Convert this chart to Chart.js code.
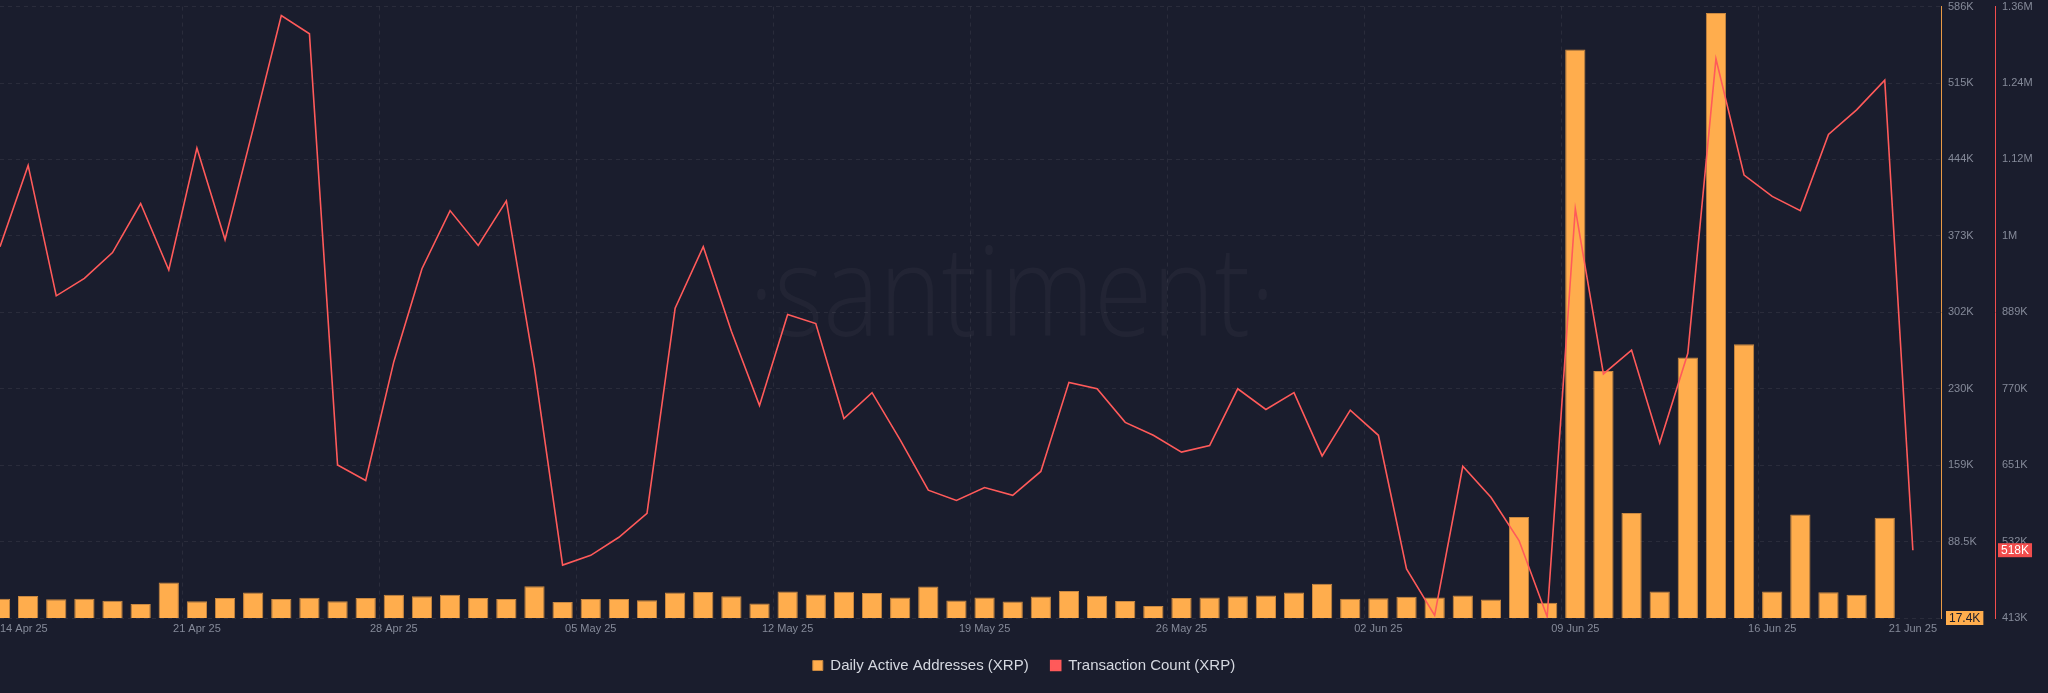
<!DOCTYPE html>
<html lang="en">
<head>
<meta charset="UTF-8">
<title>XRP Daily Active Addresses vs Transaction Count</title>
<style>
  html, body { margin: 0; padding: 0; background: #1a1d2d; }
</style>
</head>
<body>
<canvas id="chart" width="2048" height="693"></canvas>
<script src="https://cdn.jsdelivr.net/npm/chart.js@4/dist/chart.umd.min.js"></script>
<script>
const days = [
  '14 Apr 25', '15 Apr 25', '16 Apr 25', '17 Apr 25', '18 Apr 25', '19 Apr 25', '20 Apr 25',
  '21 Apr 25', '22 Apr 25', '23 Apr 25', '24 Apr 25', '25 Apr 25', '26 Apr 25', '27 Apr 25',
  '28 Apr 25', '29 Apr 25', '30 Apr 25', '01 May 25', '02 May 25', '03 May 25', '04 May 25',
  '05 May 25', '06 May 25', '07 May 25', '08 May 25', '09 May 25', '10 May 25', '11 May 25',
  '12 May 25', '13 May 25', '14 May 25', '15 May 25', '16 May 25', '17 May 25', '18 May 25',
  '19 May 25', '20 May 25', '21 May 25', '22 May 25', '23 May 25', '24 May 25', '25 May 25',
  '26 May 25', '27 May 25', '28 May 25', '29 May 25', '30 May 25', '31 May 25', '01 Jun 25',
  '02 Jun 25', '03 Jun 25', '04 Jun 25', '05 Jun 25', '06 Jun 25', '07 Jun 25', '08 Jun 25',
  '09 Jun 25', '10 Jun 25', '11 Jun 25', '12 Jun 25', '13 Jun 25', '14 Jun 25', '15 Jun 25',
  '16 Jun 25', '17 Jun 25', '18 Jun 25', '19 Jun 25', '20 Jun 25', '21 Jun 25'
]

const activeAddresses = [
  35400, 37900, 34800, 35400, 33500, 30400, 50300, 32900, 36000, 41000, 35100, 36300, 32900, 36000,
  39100, 37600, 39100, 36000, 35100, 46900, 32300, 35100, 35100, 33800, 41000, 41600, 37600, 30800,
  42000, 39200, 41700, 40700, 36500, 46600, 33600, 36400, 32800, 37300, 42600, 38000, 33300, 28600,
  35900, 36500, 37600, 38300, 41100, 49200, 35300, 35700, 37200, 36500, 38400, 34600, 111400, 31600,
  546000, 247000, 115000, 42100, 259600, 580000, 272000, 42100, 113600, 41400, 39100, 110600, 17400
]

const txCount = [
  988000, 1114000, 912000, 939000, 979000, 1055000, 952000, 1141000, 999000, 1171000, 1346000, 1318000, 650000, 626000,
  810000, 954000, 1044000, 990000, 1059000, 800000, 495000, 510000, 538000, 575000, 893000, 988000, 857000, 742000,
  883000, 869000, 722000, 762000, 689000, 611000, 595000, 615000, 603000, 640000, 778000, 768000, 716000, 696000,
  670000, 680000, 768000, 736000, 762000, 664000, 735000, 696000, 489000, 417000, 648000, 600000, 533000, 415000,
  1047000, 791000, 828000, 684000, 823000, 1279000, 1099000, 1066000, 1044000, 1162000, 1200000, 1246000, 518000
]

// labels shown under the x axis (weekly, plus the last day)
const xTickLabels = ['14 Apr 25', '21 Apr 25', '28 Apr 25', '05 May 25', '12 May 25', '19 May 25',
  '26 May 25', '02 Jun 25', '09 Jun 25', '16 Jun 25', '21 Jun 25']

const addrTicks = [17400, 88475, 159550, 230625, 301700, 372775, 443850, 514925, 586000]
const addrTickLabels = ['17.4K', '88.5K', '159K', '230K', '302K', '373K', '444K', '515K', '586K']
const txTicks = [413000, 531375, 649750, 768125, 886500, 1004875, 1123250, 1241625, 1360000]
const txTickLabels = ['413K', '532K', '651K', '770K', '889K', '1M', '1.12M', '1.24M', '1.36M']

const BG = '#1a1d2d'
const ORANGE = '#ffad4d'
const RED = '#ff5a5a'
const TICK = '#858a99'
const GRID = 'rgba(255,255,255,0.07)'
const NONE = 'rgba(0,0,0,0)'

Chart.defaults.font.family = "'Liberation Sans', Arial, sans-serif"

// one empty slot after the last day so the plot runs a little past 21 Jun
const labels = days.concat([''])
const weekly = i => i < days.length - 1 && xTickLabels.includes(labels[i])

const fmt = v => v >= 1e6 ? (v / 1e6).toFixed(2) + 'M' : (v < 1e5 ? (v / 1000).toFixed(1) : Math.round(v / 1000)) + 'K'

const background = {
  id: 'background',
  beforeDraw(chart) {
    const ctx = chart.ctx
    ctx.save()
    ctx.fillStyle = BG
    ctx.fillRect(0, 0, chart.width, chart.height)
    ctx.restore()
  }
}

const watermark = {
  id: 'watermark',
  beforeDatasetsDraw(chart) {
    const { ctx, chartArea } = chart
    ctx.save()
    ctx.font = '300 126px "Open Sans"'
    const sx = 476 / ctx.measureText('santiment').width
    ctx.translate(chart.width / 2 - 12, (chartArea.top + chartArea.bottom) / 2 + 24)
    ctx.scale(sx, 1)
    ctx.fillStyle = 'rgba(255,255,255,0.035)'
    ctx.textAlign = 'center'
    ctx.textBaseline = 'alphabetic'
    ctx.fillText('·santiment·', 0, 0)
    ctx.restore()
  }
}

// coloured boxes with the latest value of each series on its axis
const lastValueTags = {
  id: 'lastValueTags',
  afterDraw(chart) {
    const ctx = chart.ctx
    const tag = (scale, value, fill, color, dx) => {
      const y = scale.getPixelForValue(value)
      const text = fmt(value)
      ctx.save()
      ctx.font = "12px 'Liberation Sans', Arial, sans-serif"
      const w = ctx.measureText(text).width + 6
      ctx.fillStyle = fill
      ctx.fillRect(scale.left + dx, y - 7, w, 14)
      ctx.fillStyle = color
      ctx.textBaseline = 'middle'
      ctx.fillText(text, scale.left + dx + 3, y + 0.5)
      ctx.restore()
    }
    tag(chart.scales.y, activeAddresses[activeAddresses.length - 1], ORANGE, BG, 5)
    tag(chart.scales.y1, txCount[txCount.length - 1], '#f24d4d', '#ffffff', 3)
  }
}

new Chart(document.getElementById('chart'), {
  type: 'bar',
  data: {
    labels: labels,
    datasets: [
      {
        type: 'bar',
        label: 'Daily Active Addresses (XRP)',
        data: activeAddresses,
        yAxisID: 'y',
        backgroundColor: ORANGE,
        borderColor: '#c98840',
        borderWidth: 1,
        order: 1
      },
      {
        type: 'line',
        label: 'Transaction Count (XRP)',
        data: txCount,
        yAxisID: 'y1',
        borderColor: RED,
        backgroundColor: RED,
        borderWidth: 1.6,
        pointRadius: 0,
        tension: 0,
        order: 0
      }
    ]
  },
  options: {
    responsive: false,
    animation: false,
    layout: { padding: { top: 0, right: 0, bottom: 10, left: 0 } },
    plugins: {
      tooltip: { enabled: false },
      legend: {
        position: 'bottom',
        labels: {
          boxWidth: 10,
          boxHeight: 10,
          padding: 22,
          color: '#d5d8e0',
          font: { size: 15 },
          sort: (a, b) => a.datasetIndex - b.datasetIndex
        }
      }
    },
    scales: {
      x: {
        type: 'category',
        offset: false,
        grid: {
          color: c => weekly(c.index) ? GRID : NONE,
          drawTicks: true,
          tickLength: 4,
          tickColor: NONE
        },
        border: { display: false, dash: [4, 4] },
        ticks: {
          autoSkip: false,
          maxRotation: 0,
          minRotation: 0,
          align: 'inner',
          padding: 0,
          color: TICK,
          font: { size: 11 },
          callback: (v, i) => xTickLabels.includes(labels[i]) ? labels[i] : ''
        },
        afterFit: s => { s.height = 18 }
      },
      y: {
        position: 'right',
        min: addrTicks[0],
        max: addrTicks[addrTicks.length - 1],
        afterBuildTicks: s => { s.ticks = addrTicks.map(v => ({ value: v })) },
        ticks: {
          padding: 0,
          color: TICK,
          font: { size: 11 },
          callback: (v, i) => addrTickLabels[i]
        },
        grid: { color: GRID, drawTicks: true, tickLength: 7, tickColor: NONE },
        border: { color: '#e99a45', dash: [4, 4] },
        afterFit: s => { s.width = 54 }
      },
      y1: {
        position: 'right',
        min: txTicks[0],
        max: txTicks[txTicks.length - 1],
        afterBuildTicks: s => { s.ticks = txTicks.map(v => ({ value: v })) },
        ticks: {
          padding: 0,
          color: TICK,
          font: { size: 11 },
          callback: (v, i) => txTickLabels[i]
        },
        grid: { drawOnChartArea: false, drawTicks: true, tickLength: 7, tickColor: NONE },
        border: { color: '#f24d4d' },
        afterFit: s => { s.width = 53 }
      }
    }
  },
  plugins: [background, watermark, lastValueTags]
})
</script>
</body>
</html>
